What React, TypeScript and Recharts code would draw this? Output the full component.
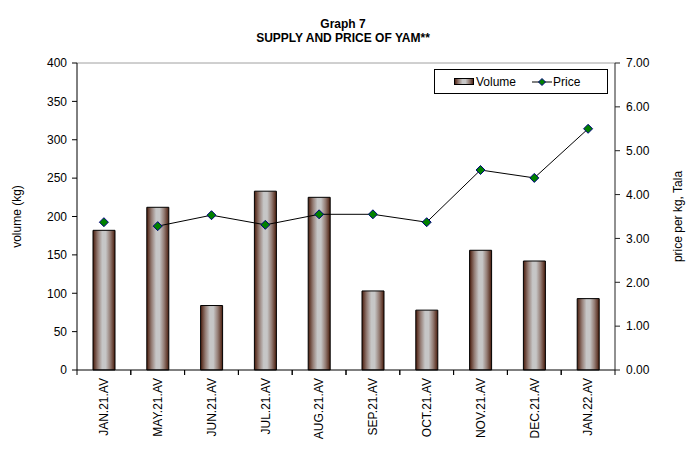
import { ComposedChart, Bar, Line, XAxis, YAxis, Legend, ReferenceLine, Label } from "recharts";

const months = [
  "JAN.21.AV", "MAY.21.AV", "JUN.21.AV", "JUL.21.AV", "AUG.21.AV",
  "SEP.21.AV", "OCT.21.AV", "NOV.21.AV", "DEC.21.AV", "JAN.22.AV",
];
const volume = [182, 212, 84, 233, 225, 103, 78, 156, 142, 93];
const price = [3.37, 3.28, 3.53, 3.31, 3.55, 3.55, 3.37, 4.56, 4.38, 5.5];
// the first month is drawn as a lone marker, the line starts at MAY
const joined = [false, true, true, true, true, true, true, true, true, true];
const volumeTicks = [0, 50, 100, 150, 200, 250, 300, 350, 400];
const priceTicks = [0, 1, 2, 3, 4, 5, 6, 7];

const data = months.map((m, i) => ({
  month: m,
  volume: volume[i],
  price: price[i],
  priceLine: joined[i] ? price[i] : null,
}));

const font = '"Liberation Sans", Arial, sans-serif';

const gradientStops = (
  <>
    <stop offset="0%" stopColor="#4a1c0c" />
    <stop offset="22%" stopColor="#957e76" />
    <stop offset="42%" stopColor="#c6c6c6" />
    <stop offset="58%" stopColor="#c6c6c6" />
    <stop offset="78%" stopColor="#957e76" />
    <stop offset="100%" stopColor="#4a1c0c" />
  </>
);

function Diamond(props: any) {
  const { cx, cy } = props;
  if (cx == null || cy == null) return null;
  const r = 4.5;
  return (
    <polygon
      points={`${cx},${cy - r} ${cx + r},${cy} ${cx},${cy + r} ${cx - r},${cy}`}
      fill="#008000"
      stroke="#000080"
      strokeWidth={1}
    />
  );
}

function MonthTick(props: any) {
  const { x, y, payload } = props;
  const half = payload?.offset || 26.9;
  const axisY = y - 8;
  return (
    <g>
      <line x1={x - half} x2={x - half} y1={axisY} y2={axisY + 5} stroke="#000" />
      <line x1={x + half} x2={x + half} y1={axisY} y2={axisY + 5} stroke="#000" />
      <text
        transform={`translate(${x},${y}) rotate(-90)`}
        textAnchor="end"
        dy="0.35em"
        fontSize={12}
        fontFamily={font}
        fill="#000"
      >
        {payload.value}
      </text>
    </g>
  );
}

function SideLabel({ viewBox, value, dx }: any) {
  const x = viewBox.x + dx;
  const y = viewBox.y + viewBox.height / 2;
  return (
    <text
      transform={`translate(${x},${y}) rotate(-90)`}
      textAnchor="middle"
      dy="0.35em"
      fontSize={12}
      fontFamily={font}
      fill="#000"
    >
      {value}
    </text>
  );
}

function LegendBox() {
  return (
    <div
      style={{
        border: "1px solid #000",
        background: "#fff",
        boxSizing: "border-box",
        width: 174,
        height: 25,
        display: "flex",
        alignItems: "center",
        fontSize: 12,
        fontFamily: font,
        color: "#000",
      }}
    >
      <svg width={20} height={8} style={{ marginLeft: 19, marginRight: 2 }}>
        <defs>
          <linearGradient id="legendFill" x1="0" y1="0" x2="1" y2="0">
            {gradientStops}
          </linearGradient>
        </defs>
        <rect x={0.5} y={0.5} width={19} height={6} fill="url(#legendFill)" stroke="#000" />
      </svg>
      <span>Volume</span>
      <svg width={20} height={10} style={{ marginLeft: 16, marginRight: 1 }}>
        <line x1={0} x2={20} y1={5} y2={5} stroke="#000" />
        <polygon points="10,1.5 13.5,5 10,8.5 6.5,5" fill="#008000" stroke="#000080" />
      </svg>
      <span>Price</span>
    </div>
  );
}

export default function App() {
  return (
    <div
      style={{
        position: "absolute",
        left: 0,
        top: 0,
        width: 686,
        height: 450,
        background: "#fff",
        fontFamily: font,
      }}
    >
      <div
        style={{
          position: "absolute",
          top: 17,
          left: 0,
          width: 686,
          textAlign: "center",
          fontWeight: "bold",
          fontSize: 12,
          lineHeight: "14px",
          color: "#000",
        }}
      >
        <div>Graph 7</div>
        <div>SUPPLY AND PRICE OF YAM**</div>
      </div>
      <ComposedChart
        width={686}
        height={450}
        data={data}
        margin={{ top: 63, right: 0, bottom: 0, left: 0 }}
      >
        <defs>
          <linearGradient id="barFill" x1="0" y1="0" x2="1" y2="0">
            {gradientStops}
          </linearGradient>
        </defs>
        <XAxis
          dataKey="month"
          height={80}
          interval={0}
          tickLine={false}
          tickSize={5}
          tickMargin={3}
          axisLine={{ stroke: "#000" }}
          tick={<MonthTick />}
        />
        <YAxis
          yAxisId="left"
          width={77}
          domain={[0, 400]}
          ticks={volumeTicks}
          tickSize={5}
          tickMargin={5}
          axisLine={{ stroke: "#000" }}
          tickLine={{ stroke: "#000" }}
          tick={{ fontSize: 12, fill: "#000", fontFamily: font }}
        >
          <Label content={<SideLabel value="volume (kg)" dx={17} />} />
        </YAxis>
        <YAxis
          yAxisId="right"
          orientation="right"
          width={71}
          domain={[0, 7]}
          ticks={priceTicks}
          tickSize={5}
          tickMargin={6}
          tickFormatter={(v: number) => v.toFixed(2)}
          axisLine={{ stroke: "#222" }}
          tickLine={{ stroke: "#222" }}
          tick={{ fontSize: 12, fill: "#000", fontFamily: font }}
        >
          <Label content={<SideLabel value="price per kg, Tala" dx={63} />} />
        </YAxis>
        <ReferenceLine yAxisId="left" y={400} stroke="#a0a0a0" />
        <Legend
          layout="vertical"
          align="center"
          verticalAlign="middle"
          content={<LegendBox />}
          wrapperStyle={{ left: 434, top: 69, width: 174, height: 25 }}
        />
        <Bar
          yAxisId="left"
          dataKey="volume"
          name="Volume"
          barSize={22}
          fill="url(#barFill)"
          stroke="#000"
          strokeWidth={1}
          isAnimationActive={false}
        />
        <Line
          yAxisId="right"
          dataKey="priceLine"
          stroke="#000"
          strokeWidth={1}
          dot={false}
          activeDot={false}
          connectNulls={false}
          legendType="none"
          isAnimationActive={false}
        />
        <Line
          yAxisId="right"
          dataKey="price"
          name="Price"
          stroke="none"
          dot={<Diamond />}
          activeDot={false}
          isAnimationActive={false}
        />
      </ComposedChart>
    </div>
  );
}
